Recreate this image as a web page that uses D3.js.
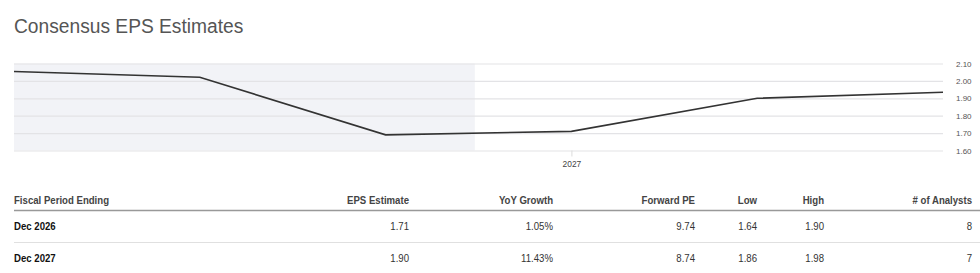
<!DOCTYPE html>
<html><head><meta charset="utf-8">
<script src="https://cdn.jsdelivr.net/npm/d3@7"></script>
<style>
body{margin:0;background:#fff;font-family:Arial,"Liberation Sans",sans-serif;}
</style></head>
<body><svg id="c" width="980" height="273"></svg>
<script>
const title = "Consensus EPS Estimates";
const years = [2024, 2025, 2026, 2027, 2028, 2029];
const eps = [2.054, 2.021, 1.69, 1.71, 1.90, 1.935];
const yTicks = [1.60, 1.70, 1.80, 1.90, 2.00, 2.10];
const xTickYears = [2027];
const shadeEnd = 2026.48;
const columns = ["Fiscal Period Ending", "EPS Estimate", "YoY Growth", "Forward PE", "Low", "High", "# of Analysts"];
const periods = ["Dec 2026", "Dec 2027"];
const epsEst = ["1.71", "1.90"];
const yoy = ["1.05%", "11.43%"];
const fwdPE = ["9.74", "8.74"];
const lows = ["1.64", "1.86"];
const highs = ["1.90", "1.98"];
const analysts = ["8", "7"];

const FF = "Arial,'Liberation Sans',sans-serif";
const svg = d3.select("#c");
svg.append("text").attr("transform", "translate(14,33) scale(0.96,1)").attr("font-size", 20)
  .attr("fill", "#555").text(title);

const x = d3.scaleLinear().domain([2024, 2029]).range([14, 943]);
const y = d3.scaleLinear().domain([1.60, 2.10]).range([150.5, 63.5]);

svg.append("rect").attr("x", x(2024)).attr("y", y(2.10)).attr("width", x(shadeEnd) - x(2024))
  .attr("height", y(1.60) - y(2.10)).attr("fill", "#f2f3f7");

const yAxis = svg.append("g").attr("transform", "translate(943,0)")
  .call(d3.axisRight(y).tickValues(yTicks).tickFormat(d3.format(".2f")).tickSize(-(943 - 14)).tickPadding(13));
yAxis.select(".domain").remove();
yAxis.selectAll("line").attr("stroke", "#e3e3e6").attr("stroke-width", 1.2);
yAxis.selectAll("text").attr("fill", "#555").attr("font-size", 8).attr("font-family", FF);

const xAxis = svg.append("g").attr("transform", `translate(0,${y(1.60)})`)
  .call(d3.axisBottom(x).tickValues(xTickYears).tickFormat(d3.format("d")).tickSize(6).tickPadding(5));
xAxis.select(".domain").remove();
xAxis.selectAll("line").attr("stroke", "#dcdcdc");
xAxis.selectAll("text").attr("fill", "#444").attr("font-size", 8.4).attr("font-family", FF);

svg.append("path").datum(years.map((d, i) => [d, eps[i]]))
  .attr("fill", "none").attr("stroke", "#333").attr("stroke-width", 1.6)
  .attr("d", d3.line().x(d => x(d[0])).y(d => y(d[1])));

// table
const colX = [14, 409, 553, 695, 757, 824, 972];
const anchors = ["start", "end", "end", "end", "end", "end", "end"];
const SX = 0.89;
const headerY = 204;
const t = svg.append("g").attr("font-size", 10.8).attr("font-family", FF);
columns.forEach((c, i) => {
  t.append("text").attr("transform", `translate(${colX[i]},${headerY}) scale(${SX},1)`).attr("text-anchor", anchors[i])
    .attr("font-weight", "bold").attr("fill", "#444").text(c);
});
t.append("line").attr("x1", 14).attr("x2", 980).attr("y1", 210.5).attr("y2", 210.5)
  .attr("stroke", "#999").attr("stroke-width", 1.5);
const rowYs = [230, 262];
periods.forEach((p, r) => {
  const vals = [p, epsEst[r], yoy[r], fwdPE[r], lows[r], highs[r], analysts[r]];
  vals.forEach((v, i) => {
    t.append("text").attr("transform", `translate(${colX[i]},${rowYs[r]}) scale(${SX},1)`).attr("text-anchor", anchors[i])
      .attr("font-weight", i === 0 ? "bold" : "normal").attr("fill", i === 0 ? "#111" : "#333").text(v);
  });
  if (r === 0) t.append("line").attr("x1", 14).attr("x2", 980).attr("y1", 242.5).attr("y2", 242.5)
    .attr("stroke", "#e0e0e0").attr("stroke-width", 1);
});
</script></body></html>
